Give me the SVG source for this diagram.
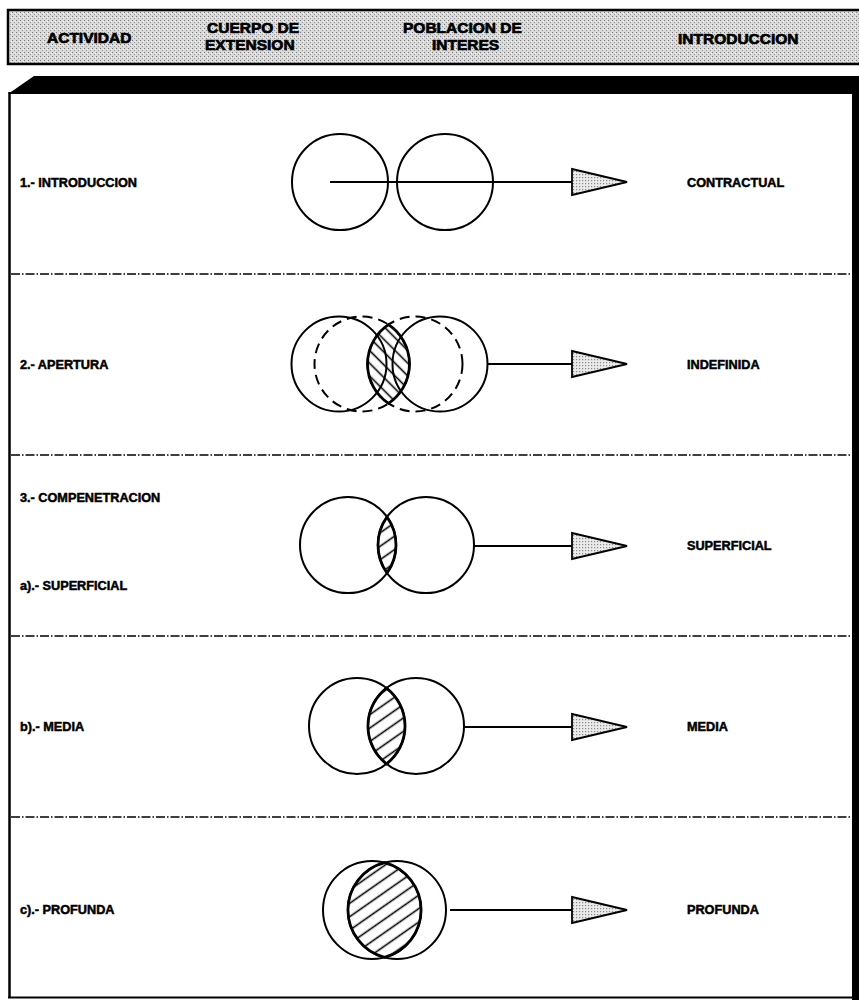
<svg xmlns="http://www.w3.org/2000/svg" width="859" height="1000" viewBox="0 0 859 1000">
<style>
.t{font-family:"Liberation Sans",Arial,sans-serif;font-weight:bold;font-size:12.7px;fill:#000;stroke:#000;stroke-width:0.5}
.h{font-size:15.5px;stroke-width:0.7}
.c{fill:none;stroke:#000;stroke-width:2}
.d{fill:none;stroke:#000;stroke-width:2;stroke-dasharray:10 6}
.lens{stroke:#000;stroke-width:2.8}
.sep{stroke:#000;stroke-width:1.5;stroke-dasharray:9 2 1.5 2}
.ln{stroke:#000;stroke-width:2}
</style>
<defs>
<pattern id="stip" width="4" height="4" patternUnits="userSpaceOnUse">
<rect width="4" height="4" fill="#dadada"/>
<rect x="0" y="0" width="1" height="1" fill="#777"/>
<rect x="2" y="2" width="1" height="1" fill="#999"/>
<rect x="3" y="1" width="1" height="1" fill="#f4f4f4"/>
</pattern>
<pattern id="dots" width="3" height="3" patternUnits="userSpaceOnUse">
<rect width="3" height="3" fill="#eaeaea"/>
<rect x="1" y="1" width="1.2" height="1.2" fill="#8a8a8a"/>
</pattern>
<pattern id="hatchB" width="9" height="9" patternUnits="userSpaceOnUse" patternTransform="rotate(-45)">
<rect width="9" height="9" fill="#fff"/>
<line x1="4.5" y1="0" x2="4.5" y2="9" stroke="#000" stroke-width="1.6"/>
</pattern>
<pattern id="hatchF" width="11" height="11" patternUnits="userSpaceOnUse" patternTransform="rotate(55)">
<rect width="11" height="11" fill="#fff"/>
<line x1="5.5" y1="0" x2="5.5" y2="11" stroke="#000" stroke-width="1.6"/>
</pattern>
<path id="ah" d="M0,-13 L55,0 L0,13 Z" fill="url(#dots)" stroke="#000" stroke-width="1.8" stroke-linejoin="miter"/>
</defs>

<g id="header">
<rect x="8" y="10" width="860" height="54" fill="url(#stip)" stroke="#000" stroke-width="2.5"/>
<text class="t h" x="47" y="43">ACTIVIDAD</text>
<text class="t h" x="207" y="33">CUERPO DE</text>
<text class="t h" x="205" y="50">EXTENSION</text>
<text class="t h" x="403" y="33">POBLACION DE</text>
<text class="t h" x="432" y="50">INTERES</text>
<text class="t h" x="678" y="44">INTRODUCCION</text>
</g>

<g id="frame">
<polygon points="8,94 34,76 860,76 860,94" fill="#000"/>
<rect x="852" y="76" width="8" height="924" fill="#000"/>
<line x1="9.5" y1="92" x2="9.5" y2="998" stroke="#000" stroke-width="2.5"/>
<line x1="8" y1="997.5" x2="853" y2="997.5" stroke="#000" stroke-width="2"/>
</g>

<g id="separators">
<line class="sep" x1="11" y1="274" x2="852" y2="274"/>
<line class="sep" x1="11" y1="455" x2="852" y2="455"/>
<line class="sep" x1="11" y1="636" x2="852" y2="636"/>
<line class="sep" x1="11" y1="817" x2="852" y2="817"/>
</g>

<g id="row1">
<text class="t" x="20" y="187">1.- INTRODUCCION</text>
<circle class="c" cx="340" cy="182" r="48"/>
<circle class="c" cx="445" cy="182" r="48"/>
<text class="t" x="687" y="187">CONTRACTUAL</text>
</g>

<g id="row2">
<text class="t" x="20" y="369">2.- APERTURA</text>
<path class="lens" fill="url(#hatchB)" d="M388.5,324.6 A47.5,47.5 0 0 1 388.5,403.4 A47.5,47.5 0 0 1 388.5,324.6 Z"/>
<circle class="c" cx="339" cy="364" r="47.5"/>
<circle class="c" cx="440" cy="364" r="47.5"/>
<circle class="d" cx="362" cy="364" r="47.5"/>
<circle class="d" cx="415" cy="364" r="47.5"/>
<text class="t" x="687" y="369">INDEFINIDA</text>
</g>

<g id="row3">
<text class="t" x="20" y="502">3.- COMPENETRACION</text>
<text class="t" x="20" y="590">a).- SUPERFICIAL</text>
<path class="lens" fill="url(#hatchF)" d="M387,517 A48,48 0 0 1 387,573 A48,48 0 0 1 387,517 Z"/>
<circle class="c" cx="348" cy="545" r="48"/>
<circle class="c" cx="426" cy="545" r="48"/>
<text class="t" x="687" y="550">SUPERFICIAL</text>
</g>

<g id="row4">
<text class="t" x="20" y="731">b).- MEDIA</text>
<path class="lens" fill="url(#hatchF)" d="M386.5,688.1 A48,48 0 0 1 386.5,763.9 A48,48 0 0 1 386.5,688.1 Z"/>
<circle class="c" cx="357" cy="726" r="48"/>
<circle class="c" cx="416" cy="726" r="48"/>
<text class="t" x="687" y="731">MEDIA</text>
</g>

<g id="row5">
<text class="t" x="20" y="914">c).- PROFUNDA</text>
<path class="lens" fill="url(#hatchF)" d="M384.5,862.6 A49,49 0 0 1 384.5,957.4 A49,49 0 0 1 384.5,862.6 Z"/>
<circle class="c" cx="372" cy="910" r="49"/>
<circle class="c" cx="397" cy="910" r="49"/>
<text class="t" x="687" y="914">PROFUNDA</text>
</g>

<g id="connectors">
<line class="ln" x1="330" y1="182" x2="572" y2="182"/>
<use href="#ah" x="572" y="182"/>
<line class="ln" x1="487" y1="364" x2="572" y2="364"/>
<use href="#ah" x="572" y="364"/>
<line class="ln" x1="474" y1="546" x2="572" y2="546"/>
<use href="#ah" x="572" y="546"/>
<line class="ln" x1="464" y1="727" x2="572" y2="727"/>
<use href="#ah" x="572" y="727"/>
<line class="ln" x1="450" y1="910" x2="572" y2="910"/>
<use href="#ah" x="572" y="910"/>
</g>
</svg>
